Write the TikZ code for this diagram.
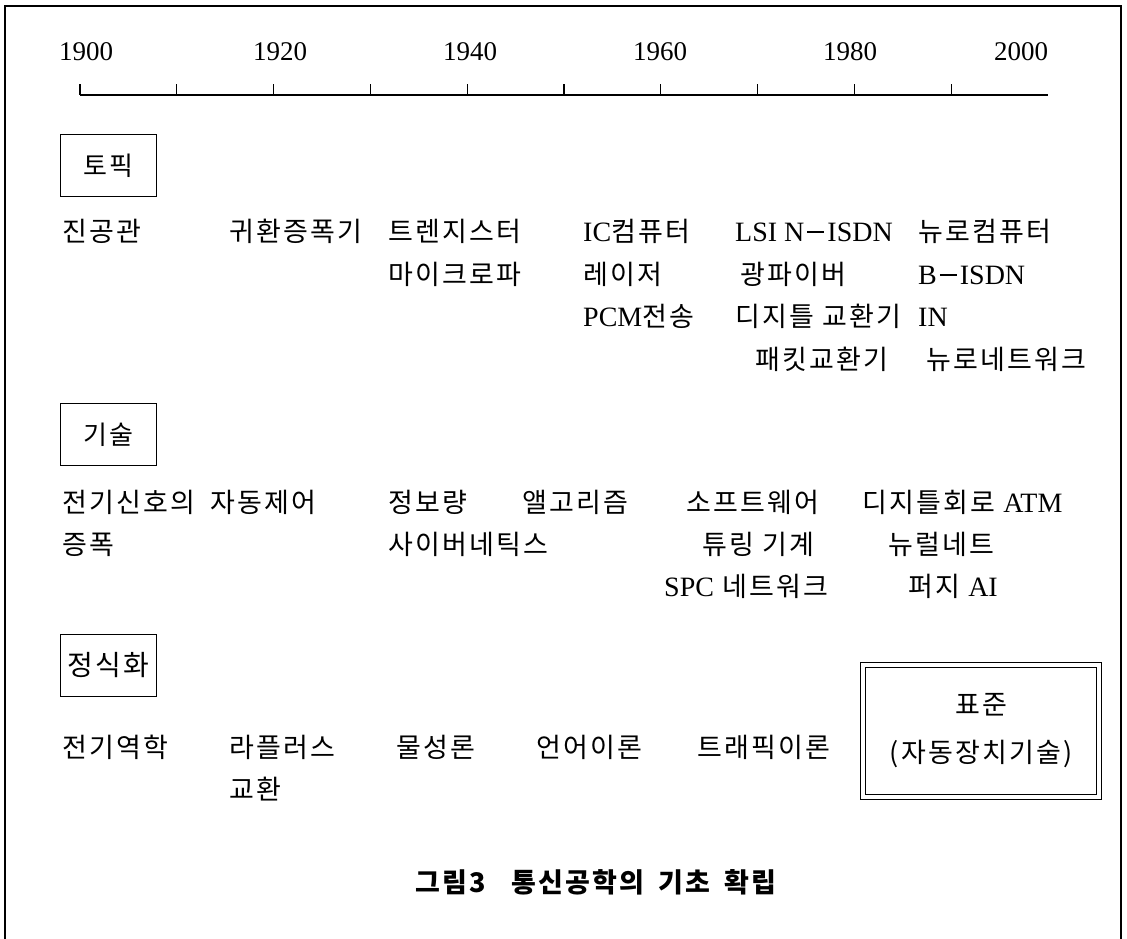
\documentclass[tikz,border=0pt]{standalone}
\usepackage{fontspec}
\setmainfont{Liberation Serif}
\newfontfamily\kofont{Noto Sans CJK KR}[LetterSpace=8]
\newfontfamily\capfont{Noto Sans CJK KR}[LetterSpace=8]
\newcommand{\la}[1]{{\rmfamily\fontsize{28}{30}\selectfont #1}}
\newcommand{\ldash}{\kern3pt\rule[8.5pt]{17pt}{1.1pt}\kern3pt}
\begin{document}
\begin{tikzpicture}[x=1pt,y=-1pt,
  lbl/.style={anchor=west, inner sep=0pt, font=\kofont\fontsize{27}{30}\selectfont, text height=19pt, text depth=5pt},
  yr/.style={inner sep=0pt, font=\fontsize{27}{30}\selectfont},
  catbox/.style={draw, line width=1pt, anchor=north west, inner sep=0pt, minimum width=96pt, minimum height=62pt, font=\kofont\fontsize{26}{30}\selectfont},
  framel/.style={line width=1.4pt},
  axisl/.style={line width=1.1pt}]
\useasboundingbox (0,0) rectangle (1127,939);
% frame
\draw[framel] (5,939) -- (5,6) -- (1121,6) -- (1121,939);
% years
\node[yr] (y1900) at (86,52) {1900};
\node[yr] (y1920) at (280,52) {1920};
\node[yr] (y1940) at (470,52) {1940};
\node[yr] (y1960) at (660,52) {1960};
\node[yr] (y1980) at (850,52) {1980};
\node[yr] (y2000) at (1021,52) {2000};
% axis
\coordinate (ax0) at (80,95);
\coordinate (ax1) at (1048,95);
\draw[axisl] (ax0) -- (ax1);
\foreach \k in {0,...,9}{
  \draw[axisl] (80+96.8*\k,95) -- ++(0,-11);
}
% category boxes
\node[catbox] (topic) at (60,134) {토픽};
\node[catbox] (tech) at (60,403) {기술};
\node[catbox, font=\kofont\fontsize{28}{30}\selectfont] (formal) at (60,634) {정식화};
% topic items
\node[lbl] (t1) at (62,234) {진공관};
\node[lbl] (t2) at (229,234) {귀환증폭기};
\node[lbl] (t3) at (388,234) {트렌지스터};
\node[lbl] (t4) at (388,277) {마이크로파};
\node[lbl] (t5) at (583,234) {\la{IC}컴퓨터};
\node[lbl] (t6) at (583,277) {레이저};
\node[lbl] (t7) at (583,319) {\la{PCM}전송};
\node[lbl] (t8) at (735,234) {\la{LSI N\ldash ISDN}};
\node[lbl] (t9) at (740,277) {광파이버};
\node[lbl] (t10) at (735,319) {디지틀 교환기};
\node[lbl] (t11) at (755,362) {패킷교환기};
\node[lbl] (t12) at (918,234) {뉴로컴퓨터};
\node[lbl] (t13) at (918,277) {\la{B\ldash ISDN}};
\node[lbl] (t14) at (918,319) {\la{IN}};
\node[lbl] (t15) at (926,362) {뉴로네트워크};
% technology items
\node[lbl] (s1) at (62,505) {전기신호의};
\node[lbl] (s2) at (62,547) {증폭};
\node[lbl] (s3) at (210,505) {자동제어};
\node[lbl] (s4) at (388,505) {정보량};
\node[lbl] (s5) at (388,547) {사이버네틱스};
\node[lbl] (s6) at (522,505) {앨고리즘};
\node[lbl] (s7) at (686,505) {소프트웨어};
\node[lbl] (s8) at (702,547) {튜링 기계};
\node[lbl] (s9) at (664,589) {\la{SPC} 네트워크};
\node[lbl] (s10) at (862,505) {디지틀회로 \la{ATM}};
\node[lbl] (s11) at (888,547) {뉴럴네트};
\node[lbl] (s12) at (908,589) {퍼지 \la{AI}};
% formalisation items
\node[lbl] (f1) at (62,750) {전기역학};
\node[lbl] (f2) at (229,750) {라플러스};
\node[lbl] (f3) at (229,792) {교환};
\node[lbl] (f4) at (396,750) {물성론};
\node[lbl] (f5) at (536,750) {언어이론};
\node[lbl] (f6) at (697,750) {트래픽이론};
% standard box
\node[draw, double, double distance=4pt, line width=0.9pt, inner sep=0pt,
      minimum width=236pt, minimum height=132pt, align=center,
      font=\kofont\fontsize{27}{48}\selectfont] (std) at (981,731) {표준\\(자동장치기술)};
% caption
\node[inner sep=0pt, font=\capfont\bfseries\fontsize{27}{30}\selectfont] (cap) at (596,882) {그림3\hspace{26pt}통신공학의\hspace{14pt}기초\hspace{14pt}확립};
\end{tikzpicture}
\end{document}
